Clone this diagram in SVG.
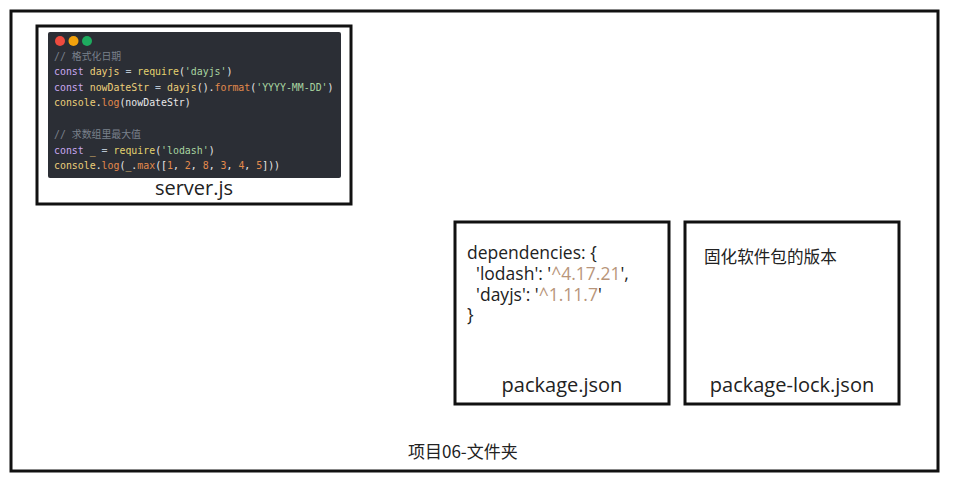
<svg xmlns="http://www.w3.org/2000/svg" width="974" height="477" viewBox="0 0 974 477">
<style>
.box{fill:#fff;stroke:#111;stroke-width:3}
.lbl{font-family:"Open Sans","Noto Sans","Liberation Sans",sans-serif;font-size:20px;fill:#222;text-anchor:middle}
.txt{font-family:"Open Sans","Noto Sans","Liberation Sans","Noto Sans CJK SC",sans-serif;font-size:17.5px;fill:#222}
.ver{fill:#b8957a}
.cjk{font-family:"Noto Sans CJK SC","Noto Sans",sans-serif;fill:#222}
.code{font-family:"DejaVu Sans Mono","Liberation Mono",monospace;font-size:9.9px;fill:#e8e8e8;white-space:pre}
.cm{fill:#7a818c;font-family:"DejaVu Sans Mono","Noto Sans CJK SC",monospace}
.kw{fill:#c9a8f0}
.id{fill:#eccf7a}
.fn{fill:#e3d26e}
.st{fill:#a8d4a0}
.mt{fill:#e38a4c}
.op{fill:#b8c4d0}
</style>
<rect x="0" y="0" width="974" height="477" fill="#fff"/>
<g id="folder">
<rect class="box" x="11" y="11" width="927" height="460"/>
<text class="cjk" x="408" y="458" font-size="17">项目06-文件夹</text>
</g>
<g id="server-js">
<rect class="box" x="37" y="26" width="314" height="178"/>
<rect x="48" y="32" width="293" height="146" rx="2" fill="#2b2e35"/>
<circle cx="60" cy="41" r="5" fill="#ee4b3f"/>
<circle cx="73.5" cy="41" r="5" fill="#f2a20c"/>
<circle cx="87" cy="41" r="5" fill="#1eab5f"/>
<text class="code" x="54" y="60"><tspan class="cm">// 格式化日期</tspan></text>
<text class="code" x="54" y="75"><tspan class="kw">const</tspan> <tspan class="id">dayjs</tspan> <tspan class="op">=</tspan> <tspan class="fn">require</tspan>(<tspan class="st">'dayjs'</tspan>)</text>
<text class="code" x="54" y="90.5"><tspan class="kw">const</tspan> <tspan class="id">nowDateStr</tspan> <tspan class="op">=</tspan> <tspan class="id">dayjs</tspan>().<tspan class="mt">format</tspan>(<tspan class="st">'YYYY-MM-DD'</tspan>)</text>
<text class="code" x="54" y="106"><tspan class="id">console</tspan>.<tspan class="mt">log</tspan>(nowDateStr)</text>
<text class="code" x="54" y="138"><tspan class="cm">// 求数组里最大值</tspan></text>
<text class="code" x="54" y="153.5"><tspan class="kw">const</tspan> <tspan class="id">_</tspan> <tspan class="op">=</tspan> <tspan class="fn">require</tspan>(<tspan class="st">'lodash'</tspan>)</text>
<text class="code" x="54" y="169"><tspan class="id">console</tspan>.<tspan class="mt">log</tspan>(<tspan class="id">_</tspan>.<tspan class="mt">max</tspan>([<tspan class="mt">1</tspan>, <tspan class="mt">2</tspan>, <tspan class="mt">8</tspan>, <tspan class="mt">3</tspan>, <tspan class="mt">4</tspan>, <tspan class="mt">5</tspan>]))</text>
<text class="lbl" x="194" y="195">server.js</text>
</g>
<g id="package-json">
<rect class="box" x="455" y="222" width="214" height="182"/>
<text class="txt" x="467" y="259">dependencies: {</text>
<text class="txt" x="467" y="280" xml:space="preserve">  'lodash': '<tspan class="ver">^4.17.21</tspan>',</text>
<text class="txt" x="467" y="300.5" xml:space="preserve">  'dayjs': '<tspan class="ver">^1.11.7</tspan>'</text>
<text class="txt" x="467" y="321">}</text>
<text class="lbl" x="562" y="392">package.json</text>
</g>
<g id="package-lock-json">
<rect class="box" x="685" y="222" width="214" height="182"/>
<text class="cjk" x="704" y="263" font-size="16.6">固化软件包的版本</text>
<text class="lbl" x="792" y="392">package-lock.json</text>
</g>
<g id="connectors"/>
</svg>
